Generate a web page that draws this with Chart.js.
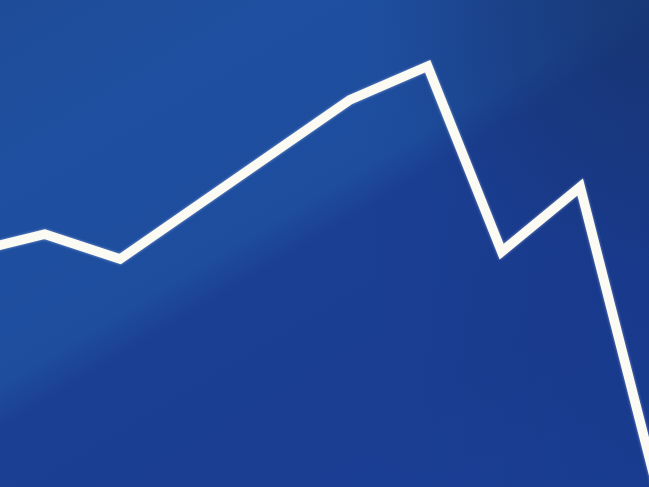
<!DOCTYPE html>
<html>
<head>
<meta charset="utf-8">
<script src="https://cdn.jsdelivr.net/npm/chart.js@4/dist/chart.umd.min.js"></script>
<style>
  html, body { margin: 0; padding: 0; background: #1b3e92; overflow: hidden; }
  #wrap { width: 649px; height: 487px; position: relative; }
</style>
</head>
<body>
<div id="wrap"><canvas id="c"></canvas></div>
<script>
// Data (arbitrary units: x 0..100, y 0..100; line runs off both edges)
const xValues = [-1.5, 6.9, 18.5, 53.9, 65.9, 77.3, 89.4, 101.2];
const yValues = [49.2, 51.9, 46.8, 79.5, 86.4, 48.3, 61.6, 0];

const points = xValues.map((x, i) => ({ x: x, y: yValues[i] }));

const bgPlugin = {
  id: 'bg',
  beforeDraw(chart) {
    const ctx = chart.ctx;
    const w = chart.width, h = chart.height;
    ctx.save();
    // main diagonal split (lighter above, darker below)
    const nx = 0.515, ny = 0.857, L = 751;
    const g = ctx.createLinearGradient(0, 0, nx * L, ny * L);
    g.addColorStop(0.0, '#1e4c98');
    g.addColorStop(0.2, '#1f4fa0');
    g.addColorStop(0.44, '#1e4d9e');
    g.addColorStop(0.49, '#1b3f93');
    g.addColorStop(0.75, '#1b3e93');
    g.addColorStop(1.0, '#1b4199');
    ctx.fillStyle = g;
    ctx.fillRect(0, 0, w, h);
    // right side slightly darker
    const g2 = ctx.createLinearGradient(0, 0, w, 0);
    g2.addColorStop(0, 'rgba(20,60,160,0)');
    g2.addColorStop(0.55, 'rgba(10,30,90,0)');
    g2.addColorStop(1, 'rgba(10,30,90,0.15)');
    ctx.fillStyle = g2;
    ctx.fillRect(0, 0, w, h);
    // top-right corner darker navy
    const g3 = ctx.createRadialGradient(w, 0, 0, w, 0, 270);
    g3.addColorStop(0, 'rgba(22,50,105,0.7)');
    g3.addColorStop(0.6, 'rgba(22,50,105,0.3)');
    g3.addColorStop(1, 'rgba(22,50,105,0)');
    ctx.fillStyle = g3;
    ctx.fillRect(0, 0, w, h);
    ctx.restore();
  },
  beforeDatasetsDraw(chart) {
    const ctx = chart.ctx;
    ctx.save();
    ctx.shadowColor = 'rgba(220,230,255,0.55)';
    ctx.shadowBlur = 3;
  },
  afterDatasetsDraw(chart) {
    chart.ctx.restore();
  }
};

new Chart(document.getElementById('c'), {
  type: 'line',
  data: {
    datasets: [{
      data: points,
      borderColor: '#fcfbf3',
      borderWidth: 9.5,
      borderJoinStyle: 'miter',
      borderCapStyle: 'butt',
      pointRadius: 0,
      tension: 0,
      fill: false,
      clip: false
    }]
  },
  options: {
    responsive: true,
    maintainAspectRatio: false,
    animation: false,
    layout: { padding: 0 },
    plugins: { legend: { display: false }, tooltip: { enabled: false } },
    scales: {
      x: { type: 'linear', min: 0, max: 100, display: false },
      y: { type: 'linear', min: 0, max: 100, display: false }
    }
  },
  plugins: [bgPlugin]
});
</script>
</body>
</html>
